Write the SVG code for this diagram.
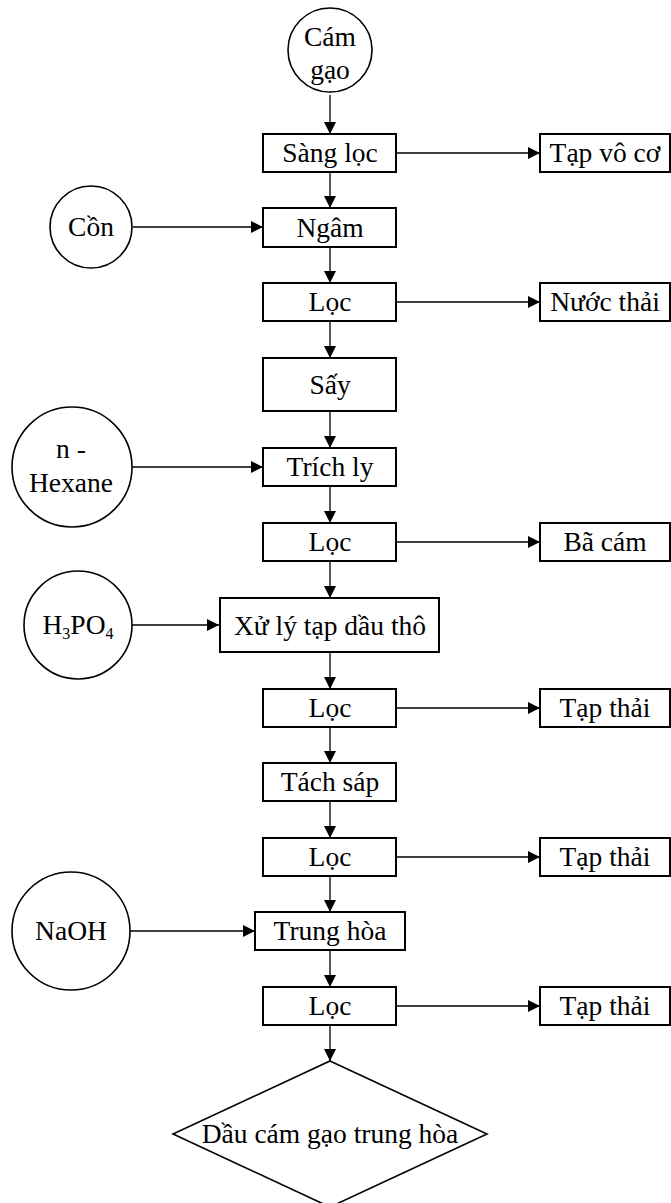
<svg xmlns="http://www.w3.org/2000/svg" width="671" height="1203" viewBox="0 0 671 1203">
<style>
.b{fill:#fff;stroke:#000;stroke-width:2}
.c{fill:#fff;stroke:#000;stroke-width:1.6}
.t{font-family:"Liberation Serif","Times New Roman",serif;font-size:27.5px;fill:#000;text-anchor:middle}
.l{fill:none;stroke:#000;stroke-width:1.3;marker-end:url(#a)}
</style>
<defs>
<marker id="a" markerUnits="userSpaceOnUse" markerWidth="12" markerHeight="12" refX="12" refY="6" orient="auto">
<path d="M0,0 L12,6 L0,12 z" fill="#000"/>
</marker>
</defs>
<rect width="671" height="1203" fill="#fff"/>
<g id="connectors">
<line class="l" x1="330" y1="95" x2="330" y2="134"/>
<line class="l" x1="330" y1="172" x2="330" y2="208"/>
<line class="l" x1="330" y1="247" x2="330" y2="283"/>
<line class="l" x1="330" y1="321" x2="330" y2="358"/>
<line class="l" x1="330" y1="411" x2="330" y2="448"/>
<line class="l" x1="330" y1="486" x2="330" y2="523"/>
<line class="l" x1="330" y1="561" x2="330" y2="598"/>
<line class="l" x1="330" y1="652" x2="330" y2="689"/>
<line class="l" x1="330" y1="727" x2="330" y2="763"/>
<line class="l" x1="330" y1="801" x2="330" y2="838"/>
<line class="l" x1="330" y1="876" x2="330" y2="912"/>
<line class="l" x1="330" y1="950" x2="330" y2="987"/>
<line class="l" x1="330" y1="1025" x2="330" y2="1061"/>
<line class="l" x1="396" y1="153" x2="540" y2="153"/>
<line class="l" x1="396" y1="302" x2="540" y2="302"/>
<line class="l" x1="396" y1="542" x2="540" y2="542"/>
<line class="l" x1="396" y1="708" x2="540" y2="708"/>
<line class="l" x1="396" y1="857" x2="540" y2="857"/>
<line class="l" x1="396" y1="1006" x2="540" y2="1006"/>
<line class="l" x1="133" y1="227" x2="263" y2="227"/>
<line class="l" x1="132" y1="467" x2="263" y2="467"/>
<line class="l" x1="132" y1="625" x2="219" y2="625"/>
<line class="l" x1="130" y1="931" x2="255" y2="931"/>
</g>
<g id="n-camgao"><circle class="c" cx="330" cy="50" r="42"/><text class="t" x="330" y="46">Cám</text><text class="t" x="330" y="79">gạo</text></g>
<g id="n-sangloc"><rect class="b" x="263" y="134" width="133" height="38"/><text class="t" x="330" y="162">Sàng lọc</text></g>
<g id="n-tapvoco"><rect class="b" x="540" y="134" width="130" height="38"/><text class="t" x="605" y="162">Tạp vô cơ</text></g>
<g id="n-con"><circle class="c" cx="91" cy="227" r="41"/><text class="t" x="91" y="236">Cồn</text></g>
<g id="n-ngam"><rect class="b" x="263" y="208" width="133" height="39"/><text class="t" x="330" y="237">Ngâm</text></g>
<g id="n-loc1"><rect class="b" x="263" y="283" width="133" height="38"/><text class="t" x="330" y="311">Lọc</text></g>
<g id="n-nuocthai"><rect class="b" x="540" y="283" width="130" height="38"/><text class="t" x="605" y="311">Nước thải</text></g>
<g id="n-say"><rect class="b" x="263" y="358" width="133" height="53"/><text class="t" x="330" y="394">Sấy</text></g>
<g id="n-hexane"><circle class="c" cx="72" cy="467" r="60"/><text class="t" x="71" y="458">n -</text><text class="t" x="71" y="492">Hexane</text></g>
<g id="n-trichly"><rect class="b" x="263" y="448" width="133" height="38"/><text class="t" x="330" y="476">Trích ly</text></g>
<g id="n-loc2"><rect class="b" x="263" y="523" width="133" height="38"/><text class="t" x="330" y="551">Lọc</text></g>
<g id="n-bacam"><rect class="b" x="540" y="523" width="130" height="38"/><text class="t" x="605" y="551">Bã cám</text></g>
<g id="n-h3po4"><circle class="c" cx="78" cy="625" r="54"/><text class="t" x="78" y="634">H<tspan font-size="16" dy="5">3</tspan><tspan dy="-5">PO</tspan><tspan font-size="16" dy="5">4</tspan></text></g>
<g id="n-xuly"><rect class="b" x="220" y="598" width="219" height="54"/><text class="t" x="330" y="635">Xử lý tạp dầu thô</text></g>
<g id="n-loc3"><rect class="b" x="263" y="689" width="133" height="38"/><text class="t" x="330" y="717">Lọc</text></g>
<g id="n-tapthai1"><rect class="b" x="540" y="689" width="130" height="38"/><text class="t" x="605" y="717">Tạp thải</text></g>
<g id="n-tachsap"><rect class="b" x="263" y="763" width="133" height="38"/><text class="t" x="330" y="791">Tách sáp</text></g>
<g id="n-loc4"><rect class="b" x="263" y="838" width="133" height="38"/><text class="t" x="330" y="866">Lọc</text></g>
<g id="n-tapthai2"><rect class="b" x="540" y="838" width="130" height="38"/><text class="t" x="605" y="866">Tạp thải</text></g>
<g id="n-naoh"><circle class="c" cx="71" cy="931" r="59"/><text class="t" x="71" y="940">NaOH</text></g>
<g id="n-trunghoa"><rect class="b" x="255" y="912" width="150" height="38"/><text class="t" x="330" y="940">Trung hòa</text></g>
<g id="n-loc5"><rect class="b" x="263" y="987" width="133" height="38"/><text class="t" x="330" y="1015">Lọc</text></g>
<g id="n-tapthai3"><rect class="b" x="540" y="987" width="130" height="38"/><text class="t" x="605" y="1015">Tạp thải</text></g>
<g id="n-dau"><polygon class="c" points="330,1061 487,1134 330,1207 173,1134"/><text class="t" x="330" y="1143">Dầu cám gạo trung hòa</text></g>
</svg>
